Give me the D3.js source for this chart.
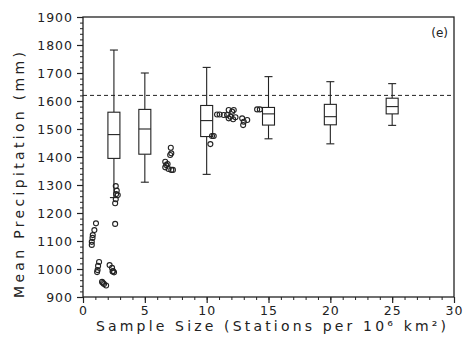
<!DOCTYPE html>
<html>
<head>
<meta charset="utf-8">
<script src="https://cdn.jsdelivr.net/npm/d3@7"></script>
<style>
  body { margin: 0; background: #fff; }
  text { font-family: "DejaVu Sans", sans-serif; fill: #222; }
</style>
</head>
<body>
<script>
// box summaries per sample size (mm)
var sizes   = [2.5, 5, 10, 15, 20, 25];
var whiskLo = [1255, 1310, 1338, 1465, 1447, 1513];
var boxLo   = [1395, 1410, 1473, 1514, 1515, 1554];
var medians = [1480, 1500, 1530, 1554, 1544, 1580];
var boxHi   = [1560, 1570, 1584, 1577, 1588, 1610];
var whiskHi = [1782, 1700, 1720, 1687, 1669, 1662];

// individual points
var ptX = [1.05, 0.92, 0.79, 0.71, 0.71, 0.77,
           1.3, 1.22, 1.18, 1.14, 1.54, 1.7, 1.87, 1.62,
           2.15, 2.35, 2.43, 2.51, 2.39, 2.6,
           2.65, 2.73, 2.68, 2.81, 2.65, 2.6,
           7.1, 7.14, 7.05, 6.65, 6.73, 6.65, 6.92, 7.14, 7.27, 6.84,
           10.43, 10.57, 10.3, 10.84, 11.05, 11.38, 11.65, 11.78, 12.06, 12.19,
           11.92, 11.78, 12.14, 12.33, 12.87, 13.0, 12.95, 13.28, 14.08, 14.3];
var ptY = [1163, 1139, 1121, 1097, 1086, 1111,
           1025, 1011, 996, 989, 954, 946, 941, 950,
           1014, 1004, 993, 988, 991, 1161,
           1296, 1280, 1268, 1264, 1249, 1235,
           1433, 1413, 1407, 1383, 1371, 1363, 1357, 1354, 1354, 1375,
           1475, 1475, 1446, 1552, 1552, 1550, 1550, 1568, 1562, 1568,
           1544, 1538, 1535, 1542, 1538, 1526, 1514, 1532, 1570, 1570];

var refLine = 1620;
var xTicks = [0, 5, 10, 15, 20, 25, 30];
var yTicks = [900, 1000, 1100, 1200, 1300, 1400, 1500, 1600, 1700, 1800, 1900];

var W = 465, H = 343;
var m = {l: 83, r: 11, t: 17, b: 46};

var svg = d3.select("body").append("svg")
  .attr("width", W).attr("height", H);

var x = d3.scaleLinear().domain([0, 30]).range([m.l, W - m.r]);
var y = d3.scaleLinear().domain([900, 1900]).range([H - m.b, m.t]);

var ink = "#222";

// frame
svg.append("rect")
  .attr("x", x(0)).attr("y", y(1900))
  .attr("width", x(30) - x(0)).attr("height", y(900) - y(1900))
  .attr("fill", "none").attr("stroke", ink).attr("stroke-width", 1.3);

// minor ticks
svg.append("g").attr("transform", "translate(0," + y(900) + ")")
  .call(d3.axisBottom(x).tickValues(d3.range(0, 31, 1)).tickSize(3).tickFormat(""))
  .call(function(g){ g.select(".domain").remove(); g.selectAll("line").attr("stroke", ink); });
svg.append("g").attr("transform", "translate(" + x(0) + ",0)")
  .call(d3.axisLeft(y).tickValues(d3.range(900, 1901, 20)).tickSize(3).tickFormat(""))
  .call(function(g){ g.select(".domain").remove(); g.selectAll("line").attr("stroke", ink); });

// major ticks + labels
var xa = svg.append("g").attr("transform", "translate(0," + y(900) + ")")
  .call(d3.axisBottom(x).tickValues(xTicks).tickSize(6).tickPadding(3).tickFormat(d3.format("d")));
var ya = svg.append("g").attr("transform", "translate(" + x(0) + ",0)")
  .call(d3.axisLeft(y).tickValues(yTicks).tickSize(6).tickPadding(4).tickFormat(d3.format("d")));
[xa, ya].forEach(function(g){
  g.select(".domain").remove();
  g.selectAll("line").attr("stroke", ink).attr("stroke-width", 1.2);
  g.selectAll("text").style("font-family", "DejaVu Sans, sans-serif")
    .style("font-size", "12.5px").style("letter-spacing", "1px").attr("fill", ink);
});

// reference line
svg.append("line")
  .attr("x1", x(0)).attr("x2", x(30))
  .attr("y1", y(refLine)).attr("y2", y(refLine))
  .attr("stroke", ink).attr("stroke-dasharray", "4,3");

// boxes
var bw = 12, cw = 8;
var boxes = svg.append("g").attr("stroke", ink).attr("stroke-width", 1.1).attr("fill", "none");
sizes.forEach(function(s, i){
  var cx = x(s);
  boxes.append("line").attr("x1", cx).attr("x2", cx).attr("y1", y(whiskHi[i])).attr("y2", y(boxHi[i]));
  boxes.append("line").attr("x1", cx).attr("x2", cx).attr("y1", y(boxLo[i])).attr("y2", y(whiskLo[i]));
  boxes.append("line").attr("x1", cx - cw/2).attr("x2", cx + cw/2).attr("y1", y(whiskHi[i])).attr("y2", y(whiskHi[i]));
  boxes.append("line").attr("x1", cx - cw/2).attr("x2", cx + cw/2).attr("y1", y(whiskLo[i])).attr("y2", y(whiskLo[i]));
  boxes.append("rect").attr("x", cx - bw/2).attr("width", bw)
    .attr("y", y(boxHi[i])).attr("height", y(boxLo[i]) - y(boxHi[i])).attr("fill", "#fff");
  boxes.append("line").attr("x1", cx - bw/2).attr("x2", cx + bw/2).attr("y1", y(medians[i])).attr("y2", y(medians[i]));
});

// points
svg.append("g").selectAll("circle").data(ptX).join("circle")
  .attr("cx", function(d){ return x(d); })
  .attr("cy", function(d, i){ return y(ptY[i]); })
  .attr("r", 2.5).attr("fill", "none").attr("stroke", ink).attr("stroke-width", 1.1);

// labels
svg.append("text").attr("x", 448).attr("y", 37).attr("text-anchor", "end")
  .style("font-size", "12px").text("(e)");

svg.append("text")
  .attr("transform", "translate(24," + ((y(900) + y(1900)) / 2 + 18) + ") rotate(-90)")
  .attr("text-anchor", "middle").style("font-size", "14px")
  .attr("textLength", 246).attr("lengthAdjust", "spacing")
  .text("Mean Precipitation (mm)");

svg.append("text").attr("x", 271).attr("y", 331).attr("text-anchor", "middle")
  .style("font-size", "14px")
  .attr("textLength", 350).attr("lengthAdjust", "spacing")
  .text("Sample Size (Stations per 10\u2076 km\u00b2)");
</script>
</body>
</html>
